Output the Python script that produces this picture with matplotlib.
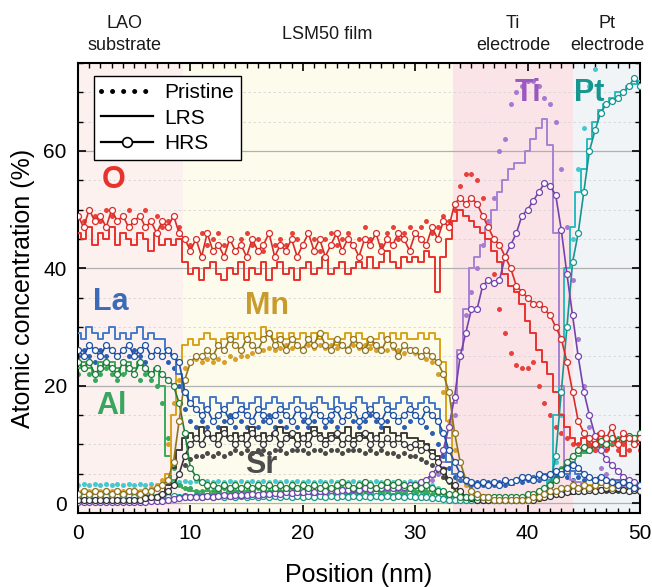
import numpy as np
import matplotlib
matplotlib.use("Agg")
import matplotlib.pyplot as plt
from matplotlib.lines import Line2D
from matplotlib.ticker import MultipleLocator

plt.rcParams['font.family'] = ['Liberation Sans', 'DejaVu Sans']

# position grid (nm), 0.5 nm step
pos = np.arange(101) * 0.5

# ---- O ----
O_pri = [49, 48, 50, 49, 48, 50, 49, 48, 49, 50,
         48, 49, 50, 48, 49, 47, 48, 49, 47, 45,
         44, 45, 46, 44, 45, 46, 44, 45, 43, 45,
         46, 44, 45, 43, 46, 44, 45, 44, 46, 45,
         44, 46, 45, 43, 45, 46, 44, 45, 46, 44,
         45, 47, 45, 46, 44, 46, 47, 45, 46, 47,
         46, 47, 48, 46, 47, 49, 48, 50, 54, 56,
         56, 55, 52, 47, 39, 33, 29, 25.5, 23.5, 23,
         23, 24, 20, 17, 15, 13, 12, 11, 10, 10,
         9, 10, 9, 10, 9, 10, 9, 10, 9, 10,
         9]
O_lrs = [46, 45, 47, 44, 46, 45, 47, 44, 46, 45,
         44, 46, 45, 43, 46, 44, 45, 44, 45, 41,
         39, 40, 38, 40, 41, 39, 38, 40, 39, 41,
         38, 40, 39, 41, 38, 40, 41, 39, 40, 38,
         40, 41, 39, 40, 42, 39, 40, 41, 39, 40,
         41, 40, 42, 40, 41, 43, 41, 40, 42, 41,
         42, 41, 43, 42, 36, 42, 45, 48, 50, 49,
         48, 47, 46, 45, 43, 41, 39, 37, 36, 34,
         31, 29, 26, 24, 22, 19, 15, 13, 11, 10,
         11, 9, 10, 12, 9, 11, 10, 8, 11, 10,
         10]
O_hrs = [49, 47, 50, 48, 49, 47, 50, 48, 49, 47,
         48, 49, 47, 48, 46, 48, 47, 49, 46, 45,
         43, 45, 42, 46, 43, 44, 42, 45, 43, 44,
         42, 45, 43, 44, 46, 42, 44, 43, 45, 42,
         44, 46, 43, 45, 42, 44, 46, 43, 45, 44,
         42, 45, 44, 46, 43, 45, 44, 46, 45, 43,
         46, 45, 44, 47, 45, 48, 47, 51, 52, 51,
         52, 51, 49, 47, 45, 44, 42, 40, 37, 36,
         35, 34, 34, 33, 32, 30, 28, 24, 19, 14,
         12, 11, 10, 12, 11, 13, 10, 12, 11, 10,
         11]

# ---- La ----
La_pri = [25, 26, 25, 24, 26, 25, 26, 25, 24, 25,
          26, 25, 24, 25, 26, 25, 24, 23, 20, 16,
          14, 13, 14, 13, 14, 13, 14, 15, 13, 14,
          13, 14, 13, 14, 15, 13, 14, 13, 14, 13,
          14, 13, 14, 15, 13, 14, 13, 14, 15, 14,
          13, 14, 15, 14, 13, 14, 15, 14, 13, 14,
          15, 14, 13, 12, 10, 8, 6, 4.5, 4, 3.5,
          3, 3.5, 3, 3.5, 3, 3.5, 3, 3.5, 4, 3.5,
          4, 4.5, 4, 4.5, 5, 4.5, 5, 4.5, 4, 4.5,
          4, 4.5, 4, 3.5, 4, 3.5, 3, 3.5, 3, 3.5,
          3]
La_lrs = [29, 28, 30, 29, 28, 29, 30, 28, 29, 28,
          29, 30, 28, 29, 28, 28, 26, 25, 22, 19,
          17, 18, 17, 16, 18, 17, 16, 17, 18, 17,
          16, 17, 18, 16, 17, 18, 17, 16, 17, 18,
          17, 16, 17, 18, 17, 16, 18, 17, 16, 17,
          18, 17, 16, 17, 18, 17, 16, 17, 18, 17,
          16, 17, 18, 17, 16, 12, 7, 5, 4, 3.5,
          3.5, 3, 3.5, 3, 3.5, 3, 3.5, 3, 3.5, 4,
          4, 4.5, 4, 5, 4.5, 5, 5.5, 5, 5.5, 5,
          5, 4.5, 4, 4.5, 4, 3.5, 4, 3.5, 3, 3.5,
          3]
La_hrs = [26, 25, 27, 26, 25, 27, 26, 25, 26, 27,
          25, 26, 27, 25, 26, 25, 26, 25, 24, 19,
          17, 16, 15, 16, 14, 15, 16, 14, 15, 16,
          15, 14, 16, 15, 14, 15, 16, 15, 14, 16,
          15, 14, 16, 15, 14, 15, 16, 14, 15, 16,
          14, 15, 16, 15, 14, 16, 15, 14, 15, 16,
          15, 14, 16, 15, 14, 12, 9, 7, 5, 4,
          3.5, 3, 3.5, 3, 3.5, 3, 4, 3.5, 4, 4.5,
          4.5, 4, 5, 4.5, 5, 5.5, 5, 6, 6.5, 6,
          5, 4.5, 4, 4.5, 4, 3.5, 3, 3.5, 3, 2.5,
          3]

# ---- Al ----
Al_pri = [22, 23, 22, 21, 22, 23, 22, 21, 22, 23,
          22, 21, 22, 21, 20, 17, 11, 6, 3, 2.5,
          2.5, 2, 2, 2.5, 2, 2, 2.5, 2, 2, 2.5,
          2, 2, 2.5, 2, 2, 2.5, 2, 2, 2.5, 2,
          2, 2.5, 2, 2, 2.5, 2, 2, 2.5, 2, 2,
          2.5, 2, 2, 2.5, 2, 2, 2.5, 2, 2, 2.5,
          2, 2, 2, 1.5, 1.5, 1, 1, 1, 1, 1,
          1, 1, 1, 1, 1, 1, 1, 1, 1, 1,
          1, 1.5, 2, 2.5, 3.5, 5, 6, 7, 8, 9,
          9, 10, 9.5, 10, 10.5, 10, 11, 10.5, 11, 11,
          11]
Al_lrs = [23, 24, 23, 22, 24, 23, 24, 23, 22, 24,
          23, 24, 23, 22, 23, 20, 8, 4, 3, 2.5,
          2, 2, 1.5, 2, 1.5, 2, 1.5, 2, 1.5, 2,
          1.5, 2, 1.5, 2, 1.5, 2, 1.5, 2, 1.5, 2,
          1.5, 2, 1.5, 2, 1.5, 2, 1.5, 2, 1.5, 2,
          1.5, 2, 1.5, 2, 1.5, 2, 1.5, 2, 1.5, 2,
          1.5, 2, 1.5, 2, 1.5, 1.5, 1, 1, 1, 1,
          1, 1, 1, 1, 1, 1, 1, 1, 1, 1,
          1, 1.5, 1.5, 2, 3, 4, 5, 6, 7, 8,
          8.5, 9, 9.5, 9.5, 10, 10, 10.5, 10.5, 11, 11,
          11]
Al_hrs = [24, 23, 24, 22, 23, 24, 23, 22, 24, 23,
          22, 24, 23, 22, 23, 22, 21, 20, 17, 12,
          6, 4.5, 3.5, 3, 3, 2.5, 3, 2.5, 3, 2.5,
          3, 2.5, 3, 2.5, 3, 2.5, 3, 2.5, 3, 2.5,
          3, 2.5, 3, 2.5, 3, 2.5, 3, 3.5, 3, 2.5,
          3, 3.5, 3, 2.5, 3, 3.5, 3, 3.5, 3, 2.5,
          3, 2.5, 3, 2.5, 2, 2, 1.5, 1.5, 1, 1,
          1, 1, 1, 1, 1, 1, 1, 1, 1, 1,
          1.5, 1.5, 2, 2.5, 3, 4, 5.5, 7, 8, 9,
          9.5, 9, 10, 10.5, 10, 11, 10.5, 11, 11.5, 11,
          12]

# ---- Mn ----
Mn_pri = [1.5, 1.5, 2, 1.5, 2, 1.5, 2, 1.5, 2, 1.5,
          2, 2, 2, 2.5, 3, 4, 10, 17, 21, 23,
          24, 24.5, 24, 24.5, 24, 24.5, 24, 25, 24.5, 25,
          25, 25.5, 26, 26, 26.5, 26, 26.5, 27, 26.5, 27,
          26.5, 27, 26.5, 27, 26.5, 27, 26.5, 27, 26.5, 27,
          26.5, 27, 26.5, 26, 26.5, 26, 26.5, 26, 25.5, 26,
          25.5, 25, 24.5, 24, 22, 19, 14, 9, 5, 3,
          2, 1.5, 1, 1, 0.5, 0.5, 0.5, 0.5, 0.5, 0.5,
          0.5, 0.5, 1, 1, 1.5, 1.5, 2, 2, 2.5, 2,
          2.5, 2, 2.5, 2, 2.5, 2, 2.5, 2, 2.5, 2,
          2]
Mn_lrs = [1.5, 2, 1.5, 2, 1.5, 2, 1.5, 2, 1.5, 2,
          1.5, 2, 2, 2, 2.5, 3, 5, 15, 24, 27,
          28, 27, 28, 29, 28, 27, 28, 29, 28, 29,
          28, 29, 28, 30, 29, 28, 29, 28, 29, 28,
          29, 28, 29, 28, 29, 28, 27, 28, 29, 28,
          29, 28, 27, 28, 29, 28, 29, 28, 29, 28,
          28, 29, 28, 29, 28, 24, 14, 5, 2, 1,
          1, 1, 0.5, 1, 0.5, 0.5, 0.5, 0.5, 0.5, 0.5,
          0.5, 1, 1, 1.5, 1.5, 2, 2, 2.5, 2.5, 2.5,
          2.5, 3, 2.5, 3, 3, 2.5, 3, 3, 2.5, 3,
          3]
Mn_hrs = [1.5, 2, 1.5, 2, 1.5, 2, 1.5, 2, 1.5, 2,
          2, 1.5, 2, 2, 2.5, 3, 4, 7, 14, 21,
          24, 25, 25, 26, 25, 27, 26, 28, 27, 26,
          28, 27, 26, 28, 29, 27, 28, 26, 28, 27,
          26, 28, 27, 29, 27, 26, 28, 27, 26, 28,
          27, 26, 28, 27, 26, 28, 27, 25, 27, 26,
          26, 25, 26, 25, 24, 22, 19, 12, 7, 4,
          2, 1.5, 1, 1, 0.5, 0.5, 0.5, 0.5, 0.5, 0.5,
          0.5, 1, 1, 1.5, 2, 2, 2.5, 2.5, 3, 2.5,
          3, 2.5, 3, 3.5, 3, 2.5, 3, 3.5, 3, 2.5,
          3]

# ---- Sr ----
Sr_pri = [0.3, 0.3, 0.3, 0.3, 0.3, 0.3, 0.3, 0.3, 0.3, 0.3,
          0.3, 0.3, 0.5, 0.5, 0.8, 1, 1.5, 3, 5, 6.5,
          7.5, 8, 8, 8.5, 8, 8.5, 8, 8.5, 9, 8.5,
          9, 8.5, 9, 9, 8.5, 9, 9, 8.5, 9, 9,
          9, 8.5, 9, 9, 8.5, 9, 9, 8.5, 9, 9,
          9, 8.5, 9, 8.5, 9, 8.5, 8.5, 8, 8.5, 8,
          8, 7.5, 7, 6.5, 5.5, 4.5, 3.5, 2.5, 1.5, 1,
          0.8, 0.5, 0.5, 0.5, 0.5, 0.5, 0.5, 0.5, 0.5, 0.5,
          0.5, 0.5, 0.8, 1, 1.2, 1.5, 1.5, 1.8, 1.8, 2,
          2, 2, 2, 2, 2, 2, 2, 2, 2, 2,
          2]
Sr_lrs = [0.5, 0.8, 0.5, 0.8, 0.5, 0.8, 0.5, 0.8, 0.5, 0.8,
          0.5, 0.8, 0.5, 0.8, 1, 1.5, 3, 6, 9, 11,
          12, 11, 13, 12, 11, 12, 13, 11, 12, 11,
          12, 13, 11, 12, 11, 12, 13, 12, 11, 12,
          11, 12, 13, 12, 11, 12, 11, 12, 13, 11,
          12, 11, 12, 11, 12, 13, 12, 11, 12, 11,
          11, 10.5, 10, 9, 8, 6, 4, 2.5, 1.5, 1,
          0.5, 0.5, 0.5, 0.5, 0.5, 0.5, 0.5, 0.5, 0.5, 0.5,
          0.5, 0.5, 0.8, 1, 1, 1.2, 1.5, 1.5, 1.5, 1.8,
          1.8, 2, 2, 2, 1.8, 2, 1.8, 2, 1.8, 2,
          1.8]
Sr_hrs = [0.5, 0.5, 0.5, 0.5, 0.5, 0.5, 0.5, 0.5, 0.5, 0.5,
          0.5, 0.5, 0.8, 1, 1, 1.5, 2, 3, 5, 8,
          10, 11, 10, 12, 11, 10, 12, 11, 10, 11,
          10, 12, 11, 10, 11, 12, 10, 11, 12, 10,
          11, 10, 12, 11, 10, 11, 12, 10, 11, 10,
          11, 12, 10, 11, 10, 11, 10, 11, 10, 9.5,
          10, 9, 9.5, 8, 7, 5.5, 4, 3, 2, 1,
          0.8, 0.5, 0.5, 0.5, 0.5, 0.5, 0.5, 0.5, 0.5, 0.5,
          0.5, 0.5, 0.8, 1, 1.2, 1.5, 1.5, 1.8, 2, 2,
          2, 2.2, 2, 2.2, 2.5, 2.2, 2.5, 2.2, 2, 2.2,
          2]

# ---- Ti ----
Ti_pri = [0.2, 0.2, 0.2, 0.2, 0.2, 0.2, 0.2, 0.2, 0.2, 0.2,
          0.2, 0.2, 0.3, 0.3, 0.4, 0.5, 0.6, 0.7, 0.8, 0.9,
          1, 1, 1.1, 1.1, 1.2, 1.2, 1.3, 1.3, 1.4, 1.4,
          1.5, 1.5, 1.6, 1.6, 1.7, 1.7, 1.8, 1.8, 1.9, 1.9,
          2, 2, 2.1, 2.1, 2.2, 2.2, 2.3, 2.3, 2.4, 2.4,
          2.5, 2.5, 2.6, 2.6, 2.7, 2.7, 2.8, 2.8, 2.9, 2.9,
          3, 3.2, 3.5, 4, 5, 6, 9, 15, 25, 32,
          36, 40, 44, 48, 52, 60, 62, 68, 70, 71,
          72, 72, 71, 69, 68, 65, 57, 47, 38, 28,
          20, 13, 9, 6, 5, 4, 3.5, 3, 3, 2.5,
          2.5]
Ti_lrs = [0.2, 0.2, 0.2, 0.2, 0.2, 0.2, 0.2, 0.2, 0.2, 0.2,
          0.2, 0.2, 0.2, 0.3, 0.3, 0.4, 0.5, 0.6, 0.8, 1,
          1, 1, 1.1, 1, 1.1, 1.2, 1.1, 1.2, 1.3, 1.2,
          1.3, 1.3, 1.4, 1.3, 1.4, 1.5, 1.4, 1.5, 1.5, 1.6,
          1.5, 1.6, 1.7, 1.6, 1.7, 1.8, 1.7, 1.8, 1.9, 1.8,
          1.9, 2, 1.9, 2, 2.1, 2, 2.2, 2.3, 2.2, 2.4,
          2.5, 2.8, 3.5, 4.5, 5, 7, 11, 17, 26, 33,
          40, 42, 44, 47, 50, 53, 55, 57, 58, 58,
          60, 62, 64, 65.5, 61, 46, 20, 6, 4, 3.5,
          3, 3, 2.5, 2.5, 2.5, 2, 2, 2, 2, 2,
          2]
Ti_hrs = [0.2, 0.2, 0.2, 0.2, 0.2, 0.2, 0.2, 0.2, 0.2, 0.2,
          0.2, 0.2, 0.2, 0.3, 0.3, 0.4, 0.5, 0.6, 0.8, 1,
          1, 1.1, 1, 1.2, 1.1, 1.2, 1.3, 1.2, 1.4, 1.3,
          1.4, 1.5, 1.4, 1.6, 1.5, 1.7, 1.6, 1.8, 1.7, 1.9,
          1.8, 2, 1.9, 2.1, 2, 2.2, 2.1, 2.3, 2.2, 2.4,
          2.3, 2.5, 2.4, 2.6, 2.5, 2.7, 2.6, 2.8, 2.7, 3,
          3, 3.5, 4, 5, 6, 9, 13, 18, 25, 29,
          33, 33, 37, 38, 37.5, 38, 42, 44, 46, 49,
          50, 51.5, 53, 54.5, 54, 52.5, 46.5, 39, 32, 25,
          19, 15, 11.5, 9, 7.5, 6.5, 5.5, 4.5, 4, 3.5,
          3]

# ---- Pt ----
Pt_pri = [3, 3.2, 3, 3.2, 3, 3.2, 3, 3.2, 3, 3.2,
          3, 3.2, 3, 3.2, 3, 3.2, 3.5, 3.8, 3.5, 3.8,
          3.5, 3.8, 3.5, 3.8, 3.5, 3.8, 3.5, 3.8, 3.5, 3.8,
          3.5, 3.8, 3.5, 3.8, 3.5, 3.8, 3.5, 3.8, 3.5, 3.8,
          3.5, 3.8, 3.5, 3.8, 3.5, 3.8, 3.5, 3.8, 3.5, 3.8,
          3.5, 3.8, 3.5, 3.8, 3.5, 3.8, 3.5, 3.8, 3.5, 3.8,
          3.5, 3.8, 3.5, 3, 2.5, 2, 1.5, 1.2, 1, 1,
          1, 1, 0.8, 1, 0.8, 1, 0.8, 1, 0.8, 1,
          1, 1.2, 1.5, 2, 4, 7, 15, 30, 45, 57,
          64, 71, 74, 78, 80, 82, 84, 85, 86, 87,
          88]
Pt_lrs = [0.8, 1, 0.8, 1, 0.8, 1, 0.8, 1, 0.8, 1,
          0.8, 1, 0.8, 1, 0.8, 1, 1, 1.2, 1, 1.2,
          1, 1.2, 1, 1.2, 1, 1.2, 1, 1.2, 1, 1.2,
          1, 1.2, 1, 1.2, 1, 1.2, 1, 1.2, 1, 1.2,
          1, 1.2, 1, 1.2, 1, 1.2, 1, 1.2, 1, 1.2,
          1, 1.2, 1, 1.2, 1, 1.2, 1, 1.2, 1, 1.2,
          1, 1, 1, 0.8, 0.8, 0.6, 0.5, 0.5, 0.5, 0.5,
          0.5, 0.5, 0.5, 0.5, 0.5, 0.5, 0.5, 0.5, 0.5, 0.5,
          0.5, 0.8, 1, 1.5, 4, 15, 28, 40, 47, 53,
          57, 62, 65, 67, 68, 69, 70, 70, 71, 71.5,
          72]
Pt_hrs = [1, 1.2, 1, 1.2, 1, 1.2, 1, 1.2, 1, 1.2,
          1, 1.2, 1, 1.2, 1, 1.2, 1, 1.2, 1, 1.2,
          1, 1.2, 1, 1.2, 1, 1.2, 1, 1.2, 1, 1.2,
          1, 1.2, 1, 1.2, 1, 1.2, 1, 1.2, 1, 1.2,
          1, 1.2, 1, 1.2, 1, 1.2, 1, 1.2, 1, 1.2,
          1, 1.2, 1, 1.2, 1, 1.2, 1, 1.2, 1, 1.2,
          1, 1, 1, 0.8, 0.8, 0.6, 0.5, 0.5, 0.5, 0.5,
          0.5, 0.5, 0.5, 0.5, 0.5, 0.5, 0.5, 0.5, 0.5, 0.5,
          0.5, 0.8, 1, 1.5, 3, 8, 19, 30, 41, 46,
          53, 60, 63.5, 66.5, 68, 68.5, 69, 70, 71, 72.5,
          71]

# element: (pristine, LRS, HRS, pristine colour, LRS colour, HRS colour)
series = [
    ("Pt", Pt_pri, Pt_lrs, Pt_hrs, "#45c9cf", "#2bbcc0", "#16968f"),
    ("Ti", Ti_pri, Ti_lrs, Ti_hrs, "#a57ad0", "#a882d2", "#7443ad"),
    ("Sr", Sr_pri, Sr_lrs, Sr_hrs, "#4a4a4a", "#3c3c3c", "#333333"),
    ("Al", Al_pri, Al_lrs, Al_hrs, "#35a85e", "#3aaa5c", "#1f7d3c"),
    ("Mn", Mn_pri, Mn_lrs, Mn_hrs, "#d6a02a", "#d9a21b", "#8f7420"),
    ("La", La_pri, La_lrs, La_hrs, "#2c5fb3", "#4479c8", "#1d4fa0"),
    ("O", O_pri, O_lrs, O_hrs, "#e8403a", "#e8322e", "#d92b27"),
]

regions = [(0, 9.3, "#fcf1ee"), (9.3, 33.4, "#fdfcec"),
           (33.4, 44.0, "#fbe4e8"), (44.0, 50, "#f1f4f7")]
region_names = [(4.1, "LAO\nsubstrate"), (22.2, "LSM50 film"),
                (38.7, "Ti\nelectrode"), (47.1, "Pt\nelectrode")]

elem_labels = [("O", 3.2, 55, "#e8332d"), ("La", 2.9, 34.2, "#3b6bb8"),
               ("Al", 3.0, 16.5, "#3aa55e"), ("Mn", 16.8, 33.6, "#c99a2e"),
               ("Sr", 16.3, 6.5, "#4d4d4d"), ("Ti", 40.0, 69.8, "#9b59c0"),
               ("Pt", 45.5, 69.8, "#17968f")]

fig = plt.figure(figsize=(6.52, 5.87), dpi=100)
ax = fig.add_axes([0.1196, 0.1261, 0.862, 0.7666])

for x0, x1, c in regions:
    ax.axvspan(x0, x1, color=c, lw=0, zorder=0)

for name, pri, lrs, hrs, cp, cl, ch in series:
    ax.plot(pos, pri, ls="none", marker="o", ms=3.6, color=cp, mec="none", zorder=2)
for name, pri, lrs, hrs, cp, cl, ch in series:
    ax.plot(pos, lrs, drawstyle="steps-mid", lw=1.4, color=cl, zorder=3)
for name, pri, lrs, hrs, cp, cl, ch in series:
    ax.plot(pos, hrs, lw=1.2, color=ch, marker="o", ms=4.3, mfc="white",
            mec=ch, mew=0.9, zorder=4)

for name, x, y, c in elem_labels:
    ax.text(x, y, name, color=c, fontsize=22, fontweight="bold",
            ha="center", va="center", zorder=6)

for x, t in region_names:
    ax.text(x, 1.063, t, transform=ax.get_xaxis_transform(), ha="center",
            va="center", fontsize=13, linespacing=1.35, color="#1a1a1a")

ax.set_xlim(0, 50)
ax.set_ylim(-1.7, 75)
ax.xaxis.set_major_locator(MultipleLocator(10))
ax.xaxis.set_minor_locator(MultipleLocator(1))
ax.yaxis.set_major_locator(MultipleLocator(20))
ax.yaxis.set_minor_locator(MultipleLocator(5))
ax.yaxis.grid(True, which="major", color="#b0b0b0", lw=0.9, zorder=1)
ax.yaxis.grid(True, which="minor", color="#d5d5d5", lw=0.6, ls=(0, (3, 3)), zorder=1)
ax.set_axisbelow(True)

ax.tick_params(which="both", direction="in", top=True, right=True)
ax.tick_params(which="major", length=6, width=1.2, labelsize=15, pad=8)
ax.tick_params(which="minor", length=3.5, width=1)
for s in ax.spines.values():
    s.set_linewidth(1.5)

ax.set_xlabel("Position (nm)", fontsize=18, labelpad=14)
ax.set_ylabel("Atomic concentration (%)", fontsize=18, labelpad=6)

handles = [
    Line2D([0], [0], color="k", ls=(0, (0.01, 2.2)), lw=3.6, dash_capstyle="round"),
    Line2D([0], [0], color="k", lw=1.6),
    Line2D([0], [0], color="k", lw=1.6, marker="o", ms=7, mfc="white", mec="k", mew=1.2),
]
leg = ax.legend(handles, ["Pristine", "LRS", "HRS"], loc="upper left",
                bbox_to_anchor=(0.0285, 0.971), borderaxespad=0, fontsize=15,
                numpoints=1, handlelength=2.5, handletextpad=0.5,
                labelspacing=0.3, borderpad=0.35, fancybox=False,
                framealpha=1, edgecolor="k", facecolor="white")
leg.get_frame().set_linewidth(1.0)
leg.set_zorder(7)

fig.savefig("out.png", dpi=100)
